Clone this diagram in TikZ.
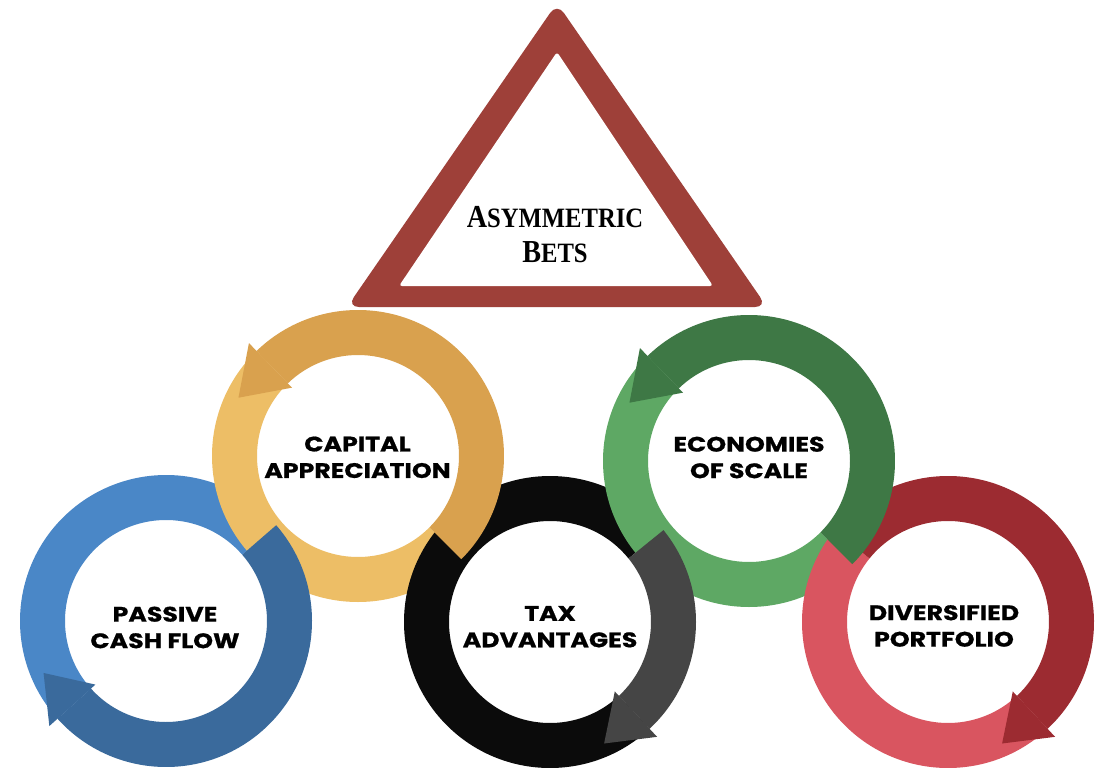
\documentclass[tikz,border=0pt]{standalone}
\usepackage{fontspec}
\usepackage{graphicx}
\newfontfamily\labfont{Poppins}[FakeStretch=1.2, BoldFeatures={FakeBold=0.8}]
\newfontfamily\decorfont{Liberation Serif}
\definecolor{lblue}{HTML}{4A87C7}
\definecolor{dblue}{HTML}{3A6A9C}
\definecolor{lgold}{HTML}{EDBE66}
\definecolor{dgold}{HTML}{D9A14E}
\definecolor{blk}{HTML}{0B0B0B}
\definecolor{gry}{HTML}{454545}
\definecolor{lgreen}{HTML}{5EA864}
\definecolor{dgreen}{HTML}{3E7845}
\definecolor{lred}{HTML}{D95560}
\definecolor{dred}{HTML}{9C2B31}
\definecolor{tri}{HTML}{9E4039}
\newcommand\rin{101}
\newcommand\rout{146}
\newcommand\ringseg[4]{\fill[#4,shift={(#1)}] (#2:\rin) arc[start angle=#2,end angle=#3,radius=\rin] -- (#3:\rout) arc[start angle=#3,end angle=#2,radius=\rout] -- cycle;}
\newcommand\ringtip[4]{\fill[#4,shift={(#1)}] (#2:95) -- (#2:157) -- (#3:133) -- cycle;}
\tikzset{
  lab/.style={font=\labfont\bfseries\fontsize{21}{26.5}\selectfont, align=center, inner sep=0pt, text=black},
  decor/.style={font=\decorfont\bfseries\fontsize{28}{35}\selectfont, align=center, inner sep=0pt, text=black}
}
\begin{document}
\begin{tikzpicture}[x=1pt,y=1pt]
\useasboundingbox (0,0) rectangle (1112,-784);
\fill[white] (0,0) rectangle (1112,-784);
\coordinate (cblue) at (166,-621);
\coordinate (cgold) at (358,-456);
\coordinate (cblack) at (550,-622);
\coordinate (cgreen) at (749,-461);
\coordinate (cred) at (948,-622);
% layered ring segments (interlocking)
\ringseg{cblue}{41}{222}{lblue}
\ringseg{cgold}{134}{315}{lgold}
\ringseg{cblue}{222}{401}{dblue}
\ringtip{cblue}{222}{203}{dblue}
\ringseg{cblack}{39}{313}{blk}
\ringseg{cgold}{-45}{134}{dgold}
\ringtip{cgold}{134}{154}{dgold}
\ringseg{cgreen}{134}{315}{lgreen}
\ringseg{cblack}{-47}{39}{gry}
\ringtip{cblack}{-47}{-66}{gry}
\ringseg{cred}{141}{313}{lred}
\ringseg{cred}{-47}{141}{dred}
\ringtip{cred}{-47}{-66}{dred}
\ringseg{cgreen}{-45}{134}{dgreen}
\ringtip{cgreen}{134}{154}{dgreen}
% triangle
\fill[tri, rounded corners=12pt] (557,-3) -- (767,-307) -- (347,-307) -- cycle;
\fill[white, rounded corners=3pt] (557,-52) -- (713,-286) -- (399,-286) -- cycle;
% labels
\node[decor] (bets) at (555,-235) {\scalebox{0.88}[1]{{\fontsize{32}{35}\selectfont A}{\fontsize{28}{35}\selectfont SYMMETRIC}}\\\scalebox{0.88}[1]{{\fontsize{32}{35}\selectfont B}{\fontsize{28}{35}\selectfont ETS}}};
\node[lab] (passive) at (165,-627.5) {PASSIVE\\CASH FLOW};
\node[lab] (capital) at (357.5,-457.3) {CAPITAL\\APPRECIATION};
\node[lab] (tax) at (550,-626.7) {TAX\\ADVANTAGES};
\node[lab] (econ) at (749,-457.5) {ECONOMIES\\OF SCALE};
\node[lab] (divers) at (944,-626) {DIVERSIFIED\\PORTFOLIO};
\end{tikzpicture}
\end{document}
